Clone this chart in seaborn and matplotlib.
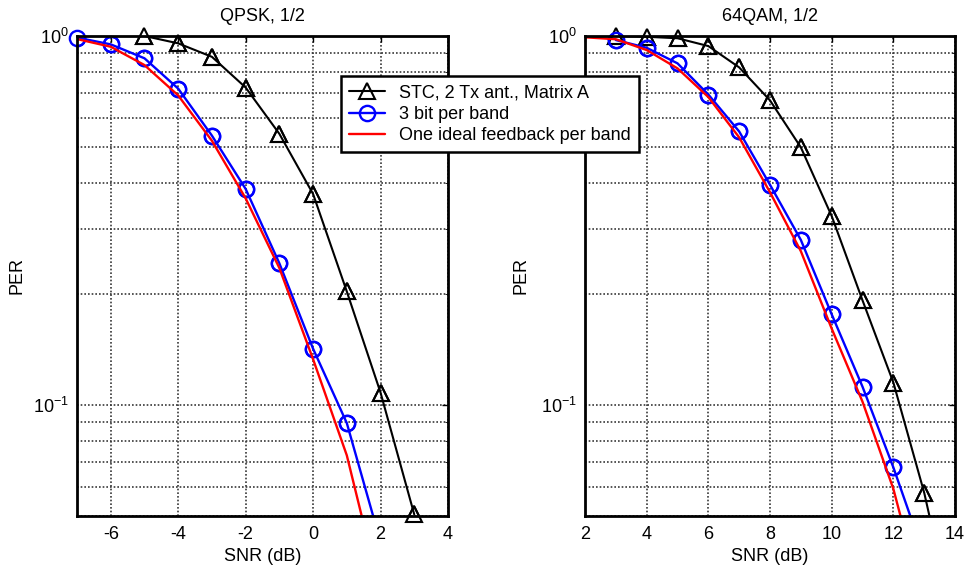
import numpy as np
import pandas as pd
import seaborn as sns
import matplotlib.pyplot as plt
from matplotlib.ticker import LogLocator, NullFormatter

# QPSK, 1/2
qpsk_snr_stc = [-5, -4, -3, -2, -1, 0, 1, 2, 3]
qpsk_per_stc = [1.0, 0.955, 0.878, 0.725, 0.543, 0.373, 0.203, 0.108, 0.0505]
qpsk_snr_3bit = [-7, -6, -5, -4, -3, -2, -1, 0, 1, 2]
qpsk_per_3bit = [0.99, 0.949, 0.87, 0.72, 0.537, 0.385, 0.242, 0.142, 0.0893, 0.0425]
qpsk_snr_ideal = [-7, -6, -5, -4, -3, -2, -1, 0, 1, 2]
qpsk_per_ideal = [0.981, 0.935, 0.834, 0.69, 0.52, 0.363, 0.235, 0.133, 0.073, 0.031]

# 64QAM, 1/2
qam_snr_stc = [3, 4, 5, 6, 7, 8, 9, 10, 11, 12, 13, 14]
qam_per_stc = [1.0, 0.995, 0.986, 0.939, 0.822, 0.669, 0.499, 0.325, 0.192, 0.115, 0.0578, 0.0246]
qam_snr_3bit = [3, 4, 5, 6, 7, 8, 9, 10, 11, 12, 13]
qam_per_3bit = [0.975, 0.929, 0.843, 0.694, 0.551, 0.395, 0.28, 0.176, 0.112, 0.0677, 0.039]
qam_snr_ideal = [2, 3, 4, 5, 6, 7, 8, 9, 10, 11, 12, 13]
qam_per_ideal = [0.992, 0.98, 0.916, 0.817, 0.683, 0.531, 0.377, 0.261, 0.161, 0.102, 0.0592, 0.0285]

labels = ["STC, 2 Tx ant., Matrix A", "3 bit per band", "One ideal feedback per band"]
YMIN, YMAX = 0.05, 1.0

sns.set_style("white")
plt.rcParams["font.family"] = ["Liberation Sans", "DejaVu Sans"]
plt.rcParams["mathtext.fontset"] = "custom"
plt.rcParams["mathtext.rm"] = "Liberation Sans"
plt.rcParams["mathtext.it"] = "Liberation Sans"
plt.rcParams["axes.unicode_minus"] = False
for k in ["text.color", "axes.labelcolor", "xtick.color", "ytick.color"]:
    plt.rcParams[k] = "black"

fig = plt.figure(figsize=(9.69, 5.73), dpi=100)
ax1 = fig.add_axes([0.0795, 0.0995, 0.3828, 0.8377])
ax2 = fig.add_axes([0.6037, 0.0995, 0.3819, 0.8377])

styles = [
    dict(color="black", marker="^", markersize=12, markeredgewidth=1.5, linewidth=1.5),
    dict(color="#0000ff", marker="o", markersize=11, markeredgewidth=1.7, linewidth=1.7),
    dict(color="#ff0000", marker=None, linewidth=1.7),
]


def draw_panel(ax, series, title, xlim, xticks, ylab_x):
    ax.set_yscale("log")
    for (x, y), lab, st in zip(series, labels, styles):
        st = dict(st)
        mk = st.pop("marker")
        ms = st.pop("markersize", None)
        mew = st.pop("markeredgewidth", None)
        if mk is None:
            sns.lineplot(x=x, y=y, ax=ax, label=lab, sort=False, **st)
            continue
        sns.lineplot(x=x, y=y, ax=ax, label=lab, sort=False, marker=mk,
                     markersize=ms, markerfacecolor="none", markeredgecolor=st["color"],
                     markeredgewidth=mew, **st)
        # markers whose centre is inside the axes are drawn whole (not clipped)
        xs = [a for a, b in zip(x, y) if YMIN <= b <= YMAX]
        ys = [b for b in y if YMIN <= b <= YMAX]
        sns.lineplot(x=xs, y=ys, ax=ax, sort=False, marker=mk, linestyle="",
                     markersize=ms, markerfacecolor="none", markeredgecolor=st["color"],
                     markeredgewidth=mew, color=st["color"], clip_on=False, legend=False)
    ax.set_xlim(*xlim)
    ax.set_ylim(YMIN, YMAX)
    ax.set_xticks(xticks)
    ax.yaxis.set_major_locator(LogLocator(base=10))
    ax.yaxis.set_minor_locator(LogLocator(base=10, subs=np.arange(2, 10)))
    ax.yaxis.set_minor_formatter(NullFormatter())
    ax.grid(True, which="both", color="#383838", linestyle=(0, (1, 1.2)), linewidth=1.2)
    ax.set_title(title, fontsize=13, pad=11)
    ax.set_xlabel("SNR (dB)", fontsize=13, labelpad=4)
    ax.set_ylabel("PER", fontsize=13)
    ax.yaxis.set_label_coords(ylab_x, 0.5)
    ax.tick_params(axis="both", which="major", labelsize=13, direction="in",
                   length=4, top=True, right=True, width=1)
    ax.tick_params(axis="x", pad=7)
    ax.tick_params(axis="y", pad=6)
    ax.tick_params(axis="y", which="minor", direction="in", length=2, right=True)
    for s in ax.spines.values():
        s.set_linewidth(2)
        s.set_color("black")
    ax.legend_.remove()


draw_panel(ax1, [(qpsk_snr_stc, qpsk_per_stc), (qpsk_snr_3bit, qpsk_per_3bit),
                 (qpsk_snr_ideal, qpsk_per_ideal)],
           "QPSK, 1/2", (-7, 4), range(-6, 5, 2), -0.14)
draw_panel(ax2, [(qam_snr_stc, qam_per_stc), (qam_snr_3bit, qam_per_3bit),
                 (qam_snr_ideal, qam_per_ideal)],
           "64QAM, 1/2", (2, 14), range(2, 15, 2), -0.149)

handles, lbls = ax1.get_legend_handles_labels()
leg = fig.legend(handles[:3], lbls[:3], loc="upper left", bbox_to_anchor=(0.352, 0.867),
                 borderaxespad=0, fontsize=13, frameon=True, fancybox=False, framealpha=1,
                 edgecolor="black", borderpad=0.45, labelspacing=0.25,
                 handlelength=2.0, handletextpad=0.75)
leg.get_frame().set_linewidth(1.8)

fig.savefig("out.png", dpi=100)
